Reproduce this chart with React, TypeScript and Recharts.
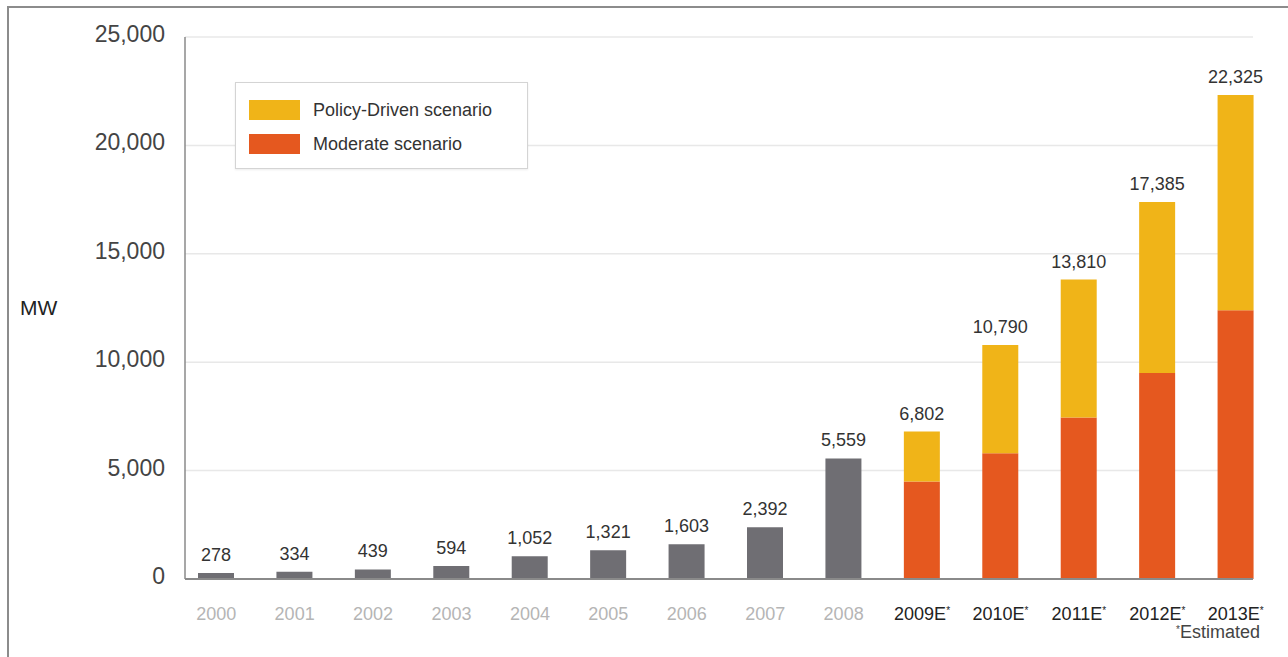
import React from 'react';
import { BarChart, Bar, XAxis, YAxis, CartesianGrid, LabelList, Customized } from 'recharts';

const years = ['2000', '2001', '2002', '2003', '2004', '2005', '2006', '2007', '2008', '2009E*', '2010E*', '2011E*', '2012E*', '2013E*'];
const installed = [278, 334, 439, 594, 1052, 1321, 1603, 2392, 5559, null, null, null, null, null];
const moderate = [null, null, null, null, null, null, null, null, null, 4500, 5800, 7450, 9500, 12400];
const policyTotal = [null, null, null, null, null, null, null, null, null, 6802, 10790, 13810, 17385, 22325];
const yTicks = [0, 5000, 10000, 15000, 20000, 25000];

const legendItems = [
  { name: 'Policy-Driven scenario', color: '#f0b418' },
  { name: 'Moderate scenario', color: '#e5581f' },
];

const data = years.map((year, i) => ({
  year,
  installed: installed[i],
  moderate: moderate[i],
  policyTotal: policyTotal[i],
  policyExtra: policyTotal[i] != null && moderate[i] != null ? policyTotal[i]! - moderate[i]! : null,
}));

const FONT = '"Liberation Sans", Arial, Helvetica, sans-serif';
const fmt = (v: any) => (v == null ? '' : Number(v).toLocaleString('en-US'));

const XTick: React.FC<any> = ({ x, y, payload }) => {
  const label: string = payload.value;
  const est = label.endsWith('*');
  return (
    <text x={x} y={y} dy={13} textAnchor="middle" fontSize={18} fontFamily={FONT} fill={est ? '#222' : '#b5b5b5'}>
      {est ? label.slice(0, -1) : label}
      {est && <tspan fontSize={10} dy={-6}>*</tspan>}
    </text>
  );
};

const YTick: React.FC<any> = ({ x, y, payload }) => (
  <text x={x} y={y} dy={5} textAnchor="end" fontSize={23} fontFamily={FONT} fill="#444">
    {fmt(payload.value)}
  </text>
);

const Footnote = () => (
  <text x={1260} y={638} textAnchor="end" fontSize={18} fontFamily={FONT} fill="#444">
    <tspan fontSize={10} dy={-5}>*</tspan>
    <tspan dy={5}>Estimated</tspan>
  </text>
);

export default function App() {
  return (
    <div style={{ position: 'absolute', left: 0, top: 0, width: 1288, height: 657, background: '#fff' }}>
      <div style={{ position: 'absolute', left: 7, top: 6, width: 1281, height: 651, borderTop: '2px solid #8c8c8c', borderLeft: '2px solid #8c8c8c', boxSizing: 'border-box' }} />
      <div style={{ position: 'absolute', left: 0, top: 0 }}>
        <BarChart width={1288} height={657} data={data} margin={{ top: 37, right: 35, left: 0, bottom: 38 }} barSize={36}>
          <CartesianGrid vertical={false} stroke="#e8e8e8" strokeWidth={1.5} />
          <XAxis
            dataKey="year"
            height={40}
            padding={{ left: -8, right: -22 }}
            tickLine={false}
            tickSize={0}
            tickMargin={28}
            interval={0}
            axisLine={{ stroke: '#8a8a8a', strokeWidth: 2 }}
            tick={<XTick />}
          />
          <YAxis
            width={185}
            domain={[0, 25000]}
            ticks={yTicks}
            tickLine={false}
            tickSize={0}
            tickMargin={20}
            axisLine={{ stroke: '#8a8a8a', strokeWidth: 1.5 }}
            tick={<YTick />}
            label={{ value: 'MW', position: 'insideLeft', offset: 20, fontSize: 21, fill: '#222', fontFamily: FONT }}
          />
          <Bar dataKey="installed" name="Installed" stackId="a" fill="#6f6e73" isAnimationActive={false}>
            <LabelList dataKey="installed" position="top" offset={12} formatter={fmt} fill="#333" fontSize={18} fontFamily={FONT} />
          </Bar>
          <Bar dataKey="moderate" name="Moderate scenario" stackId="a" fill="#e5581f" isAnimationActive={false} />
          <Bar dataKey="policyExtra" name="Policy-Driven scenario" stackId="a" fill="#f0b418" isAnimationActive={false}>
            <LabelList dataKey="policyTotal" position="top" offset={12} formatter={fmt} fill="#333" fontSize={18} fontFamily={FONT} />
          </Bar>
          <Customized component={Footnote} />
        </BarChart>
      </div>
      <div style={{ position: 'absolute', left: 235, top: 82, width: 291, height: 85, border: '1px solid #d4d4d4', background: '#fff', boxShadow: '0 1px 2px rgba(0,0,0,0.08)', paddingTop: 0 }}>
        {legendItems.map((it, i) => (
          <div key={it.name} style={{ position: 'absolute', left: 13, top: 17 + i * 34, display: 'flex', alignItems: 'center', height: 20 }}>
            <span style={{ display: 'inline-block', width: 51, height: 20, background: it.color, marginRight: 13 }} />
            <span style={{ fontFamily: FONT, fontSize: 18, color: '#333' }}>{it.name}</span>
          </div>
        ))}
      </div>
    </div>
  );
}
